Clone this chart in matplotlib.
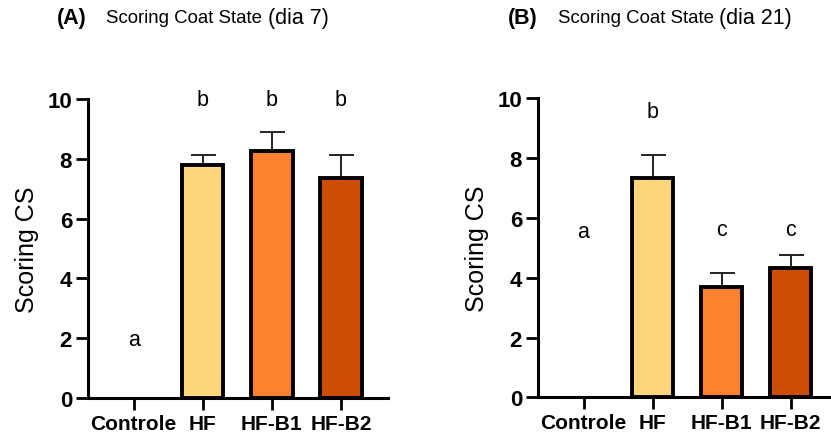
import numpy as np
import matplotlib.pyplot as plt

plt.rcParams['font.family'] = ['Liberation Sans', 'DejaVu Sans']

# Data
groups = ['Controle', 'HF', 'HF-B1', 'HF-B2']
colors = ['#ffffff', '#fdd57a', '#fd8230', '#cc4e04']

mean_d7 = [0.0, 7.8, 8.25, 7.35]
err_d7 = [0.0, 0.33, 0.65, 0.78]
letters_d7 = ['a', 'b', 'b', 'b']
letter_y_d7 = [1.95, 10.0, 10.0, 10.0]

mean_d21 = [0.0, 7.35, 3.68, 4.32]
err_d21 = [0.0, 0.77, 0.47, 0.44]
letters_d21 = ['a', 'b', 'c', 'c']
letter_y_d21 = [5.55, 9.55, 5.6, 5.6]

fig = plt.figure(figsize=(8.31, 4.39), dpi=100)
ax1 = fig.add_axes([0.1059, 0.0911, 0.361, 0.681])
ax2 = fig.add_axes([0.6474, 0.0927, 0.3514, 0.681])


def draw(ax, means, errs, letters, letter_y, xmax):
    x = np.arange(len(groups))
    edges = ['none' if m == 0 else 'black' for m in means]
    ax.bar(x, means, width=0.6, color=colors, edgecolor=edges,
           linewidth=2.8, zorder=3)
    for xi, m, e in zip(x, means, errs):
        if e > 0:
            ax.errorbar(xi, m, yerr=[[0], [e]], color='#222222', elinewidth=1.4,
                        capsize=9, capthick=1.4, zorder=2)
    for xi, t, yy in zip(x, letters, letter_y):
        ax.text(xi, yy, t, ha='center', va='center', fontsize=15.5)
    ax.set_ylim(0, 10)
    ax.set_xlim(-0.66, xmax)
    ax.set_yticks([0, 2, 4, 6, 8, 10])
    ax.set_xticks(x)
    ax.set_xticklabels(groups, fontsize=15, fontweight='bold')
    for lab in ax.get_yticklabels():
        lab.set_fontsize(16)
        lab.set_fontweight('bold')
    ax.tick_params(axis='both', length=8.5, width=2, pad=3)
    ax.spines['top'].set_visible(False)
    ax.spines['right'].set_visible(False)
    ax.spines['left'].set_linewidth(2.2)
    ax.spines['bottom'].set_linewidth(2.2)
    ax.spines['left'].set_zorder(4)
    ax.spines['bottom'].set_zorder(4)
    ax.set_ylabel('Scoring CS', fontsize=18, labelpad=6)


draw(ax1, mean_d7, err_d7, letters_d7, letter_y_d7, 3.68)
draw(ax2, mean_d21, err_d21, letters_d21, letter_y_d21, 3.57)

fig.text(0.069, 0.958, '(A)', fontsize=15.5, fontweight='bold', va='center')
fig.text(0.128, 0.958, 'Scoring Coat State', fontsize=13.4, va='center')
fig.text(0.322, 0.958, '(dia 7)', fontsize=15.5, va='center')

fig.text(0.611, 0.958, '(B)', fontsize=15.5, fontweight='bold', va='center')
fig.text(0.671, 0.958, 'Scoring Coat State', fontsize=13.4, va='center')
fig.text(0.865, 0.958, '(dia 21)', fontsize=15.5, va='center')

fig.savefig('out.png', dpi=100)
